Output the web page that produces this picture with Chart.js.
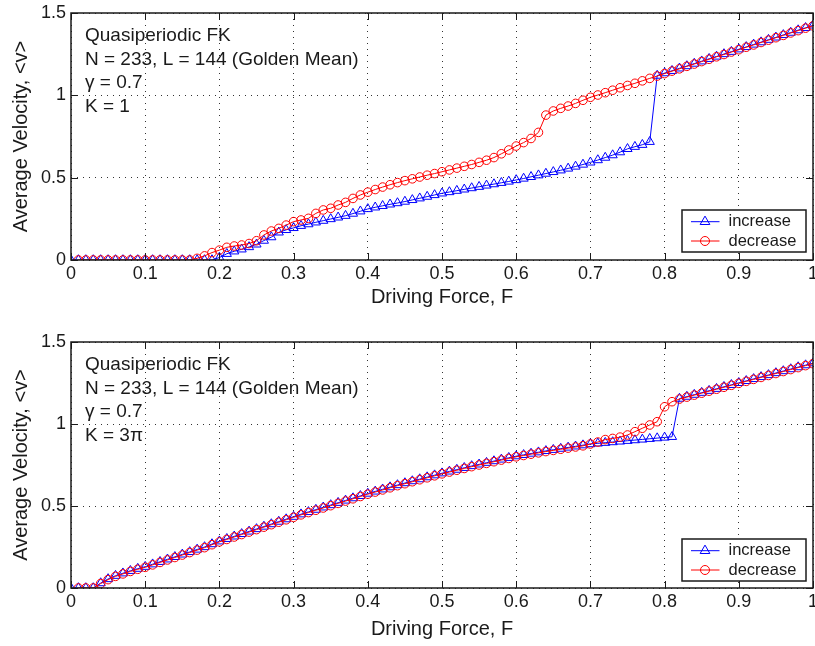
<!DOCTYPE html>
<html lang="en">
  <head>
    <meta charset="UTF-8" />
    <title>Quasiperiodic FK - Average Velocity</title>
    <script src="https://cdn.jsdelivr.net/npm/chart.js"></script>
    <style>
      body { margin: 0; background: #fff; }
      canvas { position: absolute; left: 0; }
    </style>
  </head>
  <body>
    <canvas id="topChart" width="815" height="323" style="top:0px"></canvas>
    <canvas id="bottomChart" width="815" height="323" style="top:323px"></canvas>

    <script>
      // driving force F (x axis)
      const force = [0, 0.01, 0.02, 0.03, 0.04, 0.05, 0.06, 0.07, 0.08, 0.09,
        0.1, 0.11, 0.12, 0.13, 0.14, 0.15, 0.16, 0.17, 0.18, 0.19,
        0.2, 0.21, 0.22, 0.23, 0.24, 0.25, 0.26, 0.27, 0.28, 0.29,
        0.3, 0.31, 0.32, 0.33, 0.34, 0.35, 0.36, 0.37, 0.38, 0.39,
        0.4, 0.41, 0.42, 0.43, 0.44, 0.45, 0.46, 0.47, 0.48, 0.49,
        0.5, 0.51, 0.52, 0.53, 0.54, 0.55, 0.56, 0.57, 0.58, 0.59,
        0.6, 0.61, 0.62, 0.63, 0.64, 0.65, 0.66, 0.67, 0.68, 0.69,
        0.7, 0.71, 0.72, 0.73, 0.74, 0.75, 0.76, 0.77, 0.78, 0.79,
        0.8, 0.81, 0.82, 0.83, 0.84, 0.85, 0.86, 0.87, 0.88, 0.89,
        0.9, 0.91, 0.92, 0.93, 0.94, 0.95, 0.96, 0.97, 0.98, 0.99, 1];

      // K = 1
      const incK1 = [0, 0, 0, 0, 0, 0, 0, 0, 0, 0,
        0, 0, 0, 0, 0, 0, 0, 0, 0, 0,
        0.015, 0.038, 0.053, 0.065, 0.079, 0.095, 0.118, 0.139, 0.168, 0.183,
        0.195, 0.208, 0.218, 0.229, 0.239, 0.249, 0.259, 0.269, 0.282, 0.296,
        0.31, 0.32, 0.329, 0.338, 0.346, 0.355, 0.365, 0.375, 0.385, 0.395,
        0.405, 0.413, 0.421, 0.429, 0.437, 0.445, 0.453, 0.461, 0.469, 0.477,
        0.486, 0.495, 0.505, 0.515, 0.525, 0.535, 0.545, 0.556, 0.568, 0.58,
        0.593, 0.607, 0.622, 0.637, 0.655, 0.675, 0.688, 0.7, 0.718, 1.12,
        1.135, 1.149, 1.164, 1.178, 1.193, 1.207, 1.222, 1.236, 1.251, 1.265,
        1.28, 1.294, 1.309, 1.323, 1.338, 1.352, 1.367, 1.381, 1.396, 1.41, 1.425];
      const decK1 = [null, 0, 0, 0, 0, 0, 0, 0, 0, 0,
        0, 0, 0, 0, 0, 0, 0, 0.01, 0.025, 0.045,
        0.06, 0.077, 0.085, 0.091, 0.1, 0.117, 0.152, 0.176, 0.192, 0.212,
        0.233, 0.243, 0.253, 0.283, 0.304, 0.314, 0.334, 0.35, 0.374, 0.395,
        0.412, 0.428, 0.443, 0.457, 0.47, 0.482, 0.493, 0.504, 0.515, 0.525,
        0.536, 0.547, 0.558, 0.569, 0.58, 0.593, 0.606, 0.622, 0.645, 0.668,
        0.692, 0.713, 0.738, 0.775, 0.88, 0.905, 0.921, 0.935, 0.951, 0.97,
        0.988, 1.002, 1.016, 1.031, 1.046, 1.06, 1.073, 1.088, 1.103, 1.117,
        1.132, 1.147, 1.161, 1.176, 1.19, 1.205, 1.219, 1.234, 1.248, 1.263,
        1.277, 1.292, 1.306, 1.321, 1.335, 1.35, 1.364, 1.379, 1.393, 1.408, 1.422];

      // K = 3 pi
      const incK3pi = [0, 0, 0, 0, 0.03, 0.055, 0.075, 0.09, 0.105, 0.118,
        0.13, 0.145, 0.16, 0.175, 0.19, 0.205, 0.22, 0.235, 0.25, 0.268,
        0.285, 0.3, 0.315, 0.33, 0.345, 0.36, 0.375, 0.39, 0.405, 0.42,
        0.435, 0.45, 0.464, 0.478, 0.492, 0.506, 0.52, 0.534, 0.548, 0.562,
        0.576, 0.589, 0.602, 0.615, 0.628, 0.64, 0.652, 0.664, 0.676, 0.688,
        0.7, 0.711, 0.722, 0.733, 0.744, 0.754, 0.764, 0.774, 0.784, 0.794,
        0.804, 0.812, 0.82, 0.828, 0.836, 0.843, 0.85, 0.857, 0.864, 0.871,
        0.878, 0.882, 0.886, 0.89, 0.894, 0.898, 0.902, 0.906, 0.91, 0.914,
        0.918, 0.922, 1.155, 1.167, 1.179, 1.191, 1.203, 1.215, 1.227, 1.239,
        1.251, 1.263, 1.275, 1.287, 1.299, 1.311, 1.323, 1.335, 1.347, 1.359, 1.371];
      const decK3pi = [null, 0, 0, 0, 0.027, 0.051, 0.071, 0.086, 0.101, 0.114,
        0.126, 0.141, 0.156, 0.171, 0.186, 0.201, 0.216, 0.231, 0.246, 0.264,
        0.281, 0.296, 0.311, 0.326, 0.341, 0.356, 0.371, 0.386, 0.401, 0.416,
        0.431, 0.446, 0.46, 0.474, 0.488, 0.502, 0.516, 0.53, 0.544, 0.558,
        0.572, 0.585, 0.598, 0.611, 0.624, 0.636, 0.648, 0.66, 0.672, 0.684,
        0.696, 0.707, 0.718, 0.729, 0.74, 0.75, 0.76, 0.77, 0.78, 0.79,
        0.8, 0.808, 0.816, 0.824, 0.832, 0.839, 0.846, 0.853, 0.86, 0.867,
        0.878, 0.89, 0.905, 0.912, 0.92, 0.933, 0.953, 0.974, 0.994, 1.014,
        1.105, 1.136, 1.152, 1.164, 1.176, 1.188, 1.2, 1.212, 1.224, 1.236,
        1.248, 1.26, 1.272, 1.284, 1.296, 1.308, 1.32, 1.332, 1.344, 1.356, 1.368];

      const notesK1 = ['Quasiperiodic FK', 'N = 233, L = 144 (Golden Mean)', 'γ = 0.7', 'K = 1'];
      const notesK3pi = ['Quasiperiodic FK', 'N = 233, L = 144 (Golden Mean)', 'γ = 0.7', 'K = 3π'];

      const FONT = '"Liberation Sans", Arial, Helvetica, sans-serif';
      const INK = '#1a1a1a';

      function toPoints(ys) {
        return force.map(function (f, i) { return { x: f, y: ys[i] }; });
      }

      function fmt(v) {
        return String(Math.round(v * 10) / 10);
      }

      function marker(ctx, style, x, y) {
        ctx.beginPath();
        if (style === 'triangle') {
          const r = 5.6;
          ctx.moveTo(x, y - r);
          ctx.lineTo(x + r * 0.866, y + r * 0.5);
          ctx.lineTo(x - r * 0.866, y + r * 0.5);
          ctx.closePath();
        } else {
          ctx.arc(x, y, 4.5, 0, Math.PI * 2);
        }
        ctx.stroke();
      }

      // frame, inward ticks, text block and legend box (MATLAB look)
      const matlabBox = {
        id: 'matlabBox',
        afterDraw(chart, args, opts) {
          const ctx = chart.ctx;
          const a = chart.chartArea;
          const xs = chart.scales.x, ys = chart.scales.y;
          ctx.save();
          ctx.strokeStyle = INK;
          ctx.lineWidth = 1;
          ctx.beginPath();
          xs.ticks.forEach(function (t) {
            const px = Math.round(xs.getPixelForValue(t.value)) + 0.5;
            ctx.moveTo(px, a.bottom); ctx.lineTo(px, a.bottom - 7);
            ctx.moveTo(px, a.top); ctx.lineTo(px, a.top + 7);
          });
          ys.ticks.forEach(function (t) {
            const py = Math.round(ys.getPixelForValue(t.value)) + 0.5;
            ctx.moveTo(a.left, py); ctx.lineTo(a.left + 7, py);
            ctx.moveTo(a.right, py); ctx.lineTo(a.right - 7, py);
          });
          ctx.stroke();
          ctx.lineWidth = 1.5;
          ctx.strokeRect(a.left, a.top, a.right - a.left, a.bottom - a.top);

          // annotation text
          ctx.fillStyle = INK;
          ctx.font = '19px ' + FONT;
          ctx.textBaseline = 'alphabetic';
          ctx.textAlign = 'left';
          const base = [28, 51.5, 75, 99];
          opts.notes.forEach(function (line, i) {
            ctx.fillText(line, a.left + 14, a.top + base[i]);
          });

          // legend
          const w = 124, h = 42;
          const bx = a.right - 7 - w, by = a.bottom - opts.legendGap - h;
          ctx.fillStyle = '#fff';
          ctx.fillRect(bx, by, w, h);
          ctx.lineWidth = 1.5;
          ctx.strokeStyle = INK;
          ctx.strokeRect(bx, by, w, h);
          ctx.font = '16.5px ' + FONT;
          ctx.textBaseline = 'middle';
          chart.data.datasets.forEach(function (ds, i) {
            const ly = by + 11.7 + i * 19.3;
            ctx.strokeStyle = ds.borderColor;
            ctx.lineWidth = 1;
            ctx.beginPath();
            ctx.moveTo(bx + 9, ly); ctx.lineTo(bx + 37.5, ly);
            ctx.stroke();
            marker(ctx, ds.pointStyle, bx + 23, ly);
            ctx.fillStyle = INK;
            ctx.fillText(ds.label, bx + 46.5, ly);
          });
          ctx.restore();
        }
      };

      function makeChart(id, inc, dec, notes, pad, axisH, legendGap) {
        return new Chart(document.getElementById(id), {
          type: 'line',
          data: {
            datasets: [
              {
                label: 'increase',
                data: toPoints(inc),
                borderColor: '#0000ff',
                borderWidth: 1,
                pointStyle: 'triangle',
                pointRadius: 5.3,
                pointBorderWidth: 1,
                pointBorderColor: '#0000ff',
                pointBackgroundColor: 'rgba(0,0,0,0)',
                tension: 0,
                clip: 0,
                order: 2,
              },
              {
                label: 'decrease',
                data: toPoints(dec),
                borderColor: '#ff0000',
                borderWidth: 1,
                pointStyle: 'circle',
                pointRadius: 4.3,
                pointBorderWidth: 1,
                pointBorderColor: '#ff0000',
                pointBackgroundColor: 'rgba(0,0,0,0)',
                tension: 0,
                clip: 0,
                order: 1,
              },
            ],
          },
          options: {
            responsive: false,
            animation: false,
            devicePixelRatio: 1,
            events: [],
            layout: { padding: pad, autoPadding: false },
            plugins: {
              legend: { display: false },
              tooltip: { enabled: false },
              matlabBox: { notes: notes, legendGap: legendGap },
            },
            scales: {
              x: {
                type: 'linear',
                min: 0,
                max: 1,
                ticks: {
                  stepSize: 0.1,
                  padding: 3,
                  color: INK,
                  font: { family: FONT, size: 18 },
                  maxRotation: 0,
                  callback: fmt,
                },
                grid: { color: 'rgba(0,0,0,0.8)', lineWidth: 1, drawTicks: false },
                border: { display: false, dash: [1, 5] },
                title: {
                  display: true,
                  text: 'Driving Force, F',
                  color: INK,
                  font: { family: FONT, size: 20 },
                  padding: { top: 0, bottom: 0 },
                },
                afterFit(scale) {
                  scale.height = axisH;
                  scale.paddingLeft = 0;
                  scale.paddingRight = 0;
                },
              },
              y: {
                min: 0,
                max: 1.5,
                ticks: {
                  stepSize: 0.5,
                  padding: 5,
                  color: INK,
                  font: { family: FONT, size: 18 },
                  callback: fmt,
                },
                grid: { color: 'rgba(0,0,0,0.8)', lineWidth: 1, drawTicks: false },
                border: { display: false, dash: [1, 5] },
                title: {
                  display: true,
                  text: 'Average Velocity, <v>',
                  color: INK,
                  font: { family: FONT, size: 20 },
                  padding: { top: 9, bottom: 0 },
                },
                afterFit(scale) {
                  scale.width = 71;
                  scale.paddingTop = 0;
                  scale.paddingBottom = 0;
                },
              },
            },
          },
          plugins: [matlabBox],
        });
      }

      makeChart('topChart', incK1, decK1, notesK1, { top: 13, left: 0, right: 2, bottom: 14 }, 49, 8);
      makeChart('bottomChart', incK3pi, decK3pi, notesK3pi, { top: 19, left: 0, right: 2, bottom: 5 }, 53, 7);
    </script>
  </body>
</html>
